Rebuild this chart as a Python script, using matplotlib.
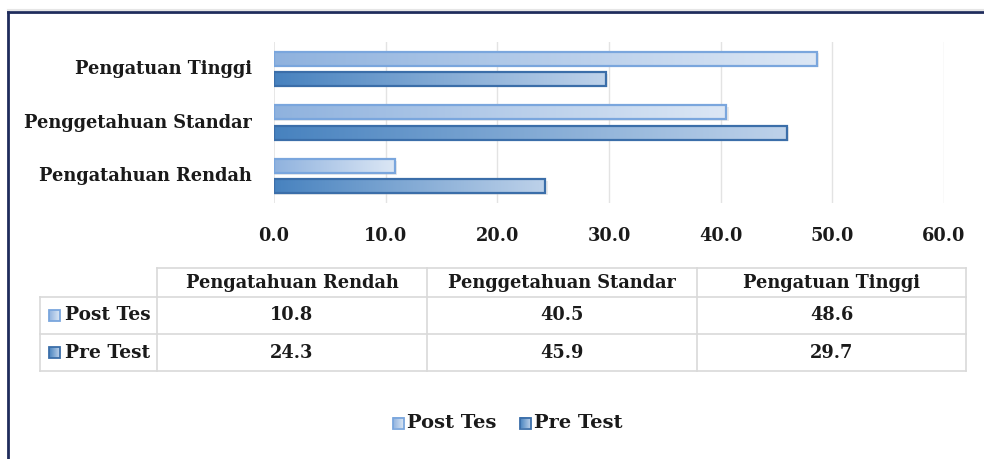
import numpy as np
import matplotlib.pyplot as plt
from matplotlib.colors import LinearSegmentedColormap
from matplotlib.patches import Rectangle
from matplotlib.lines import Line2D

categories = ["Pengatahuan Rendah", "Penggetahuan Standar", "Pengatuan Tinggi"]
series_names = ["Post Tes", "Pre Test"]
post_tes = [10.8, 40.5, 48.6]
pre_test = [24.3, 45.9, 29.7]
xticks = [0, 10, 20, 30, 40, 50, 60]

W, H = 984, 459
FONT = "DejaVu Serif"
FS = 12.8

post_cmap = LinearSegmentedColormap.from_list("post", ["#8fb2de", "#dce7f5"])
pre_cmap = LinearSegmentedColormap.from_list("pre", ["#4782bf", "#bed2ea"])
post_edge = "#7aa6dd"
pre_edge = "#3b6ea9"

fig = plt.figure(figsize=(W / 100, H / 100), dpi=100)
fig.patch.set_facecolor("white")

# main bar axes, placed in pixel coordinates
x0, x1, ytop, ybot = 274, 944, 42, 203
ax = fig.add_axes([x0 / W, 1 - ybot / H, (x1 - x0) / W, (ybot - ytop) / H])

grad = np.linspace(0, 1, 256).reshape(1, -1)
h = 0.26
off = 0.187


def gradient_bars(vals, ypos, cmap, edge):
    for v, y in zip(vals, ypos):
        # soft shadow
        ax.add_patch(Rectangle((0, y - h / 2 - 0.03), v + 0.25, h, facecolor="#c8c8c8",
                               alpha=0.35, edgecolor="none", zorder=1))
        ax.imshow(grad, cmap=cmap, extent=[0, v, y - h / 2, y + h / 2],
                  aspect="auto", zorder=2, interpolation="bilinear")
        ax.add_patch(Rectangle((0, y - h / 2), v, h, fill=False, edgecolor=edge,
                               linewidth=1.6, zorder=3))


ypos = np.arange(len(categories))
gradient_bars(post_tes, ypos + off, post_cmap, post_edge)
gradient_bars(pre_test, ypos - off, pre_cmap, pre_edge)
ax.set_xlim(0, 60)
ax.set_ylim(-0.5, len(categories) - 0.5)

for t in xticks[1:]:
    ax.axvline(t, color="#e3e3e3", linewidth=1, zorder=0)
ax.axvline(0, color="#e3e3e3", linewidth=1.2, zorder=0)
for s in ax.spines.values():
    s.set_visible(False)
ax.set_xticks([])
ax.set_yticks([])

# overlay axes in pixel coordinates for labels, table, legend and frame
ov = fig.add_axes([0, 0, 1, 1], facecolor="none")
ov.axis("off")

txt = dict(fontfamily=FONT, fontweight="bold", color="#1a1a1a")

# category labels
for i, c in enumerate(categories):
    yc = ybot - (i + 0.5) * (ybot - ytop) / len(categories)
    ov.text(252, yc, c, ha="right", va="center", fontsize=FS, **txt)

# x tick labels
for t in xticks:
    xp = x0 + (x1 - x0) * t / 60
    ov.text(xp, 236, f"{t:.1f}", ha="center", va="center", fontsize=FS, **txt)

# data table
cols = [157, 427, 697, 966]
rows = [268, 297, 334, 371]
gc = "#d9d9d9"
ov.add_line(Line2D([cols[0], cols[-1]], [rows[0], rows[0]], color=gc, lw=1.2))
for r in rows[1:]:
    ov.add_line(Line2D([40, cols[-1]], [r, r], color=gc, lw=1.2))
for c in cols:
    ov.add_line(Line2D([c, c], [rows[0], rows[-1]], color=gc, lw=1.2))
ov.add_line(Line2D([40, 40], [rows[1], rows[-1]], color=gc, lw=1.2))

for j, c in enumerate(categories):
    xc = (cols[j] + cols[j + 1]) / 2
    ov.text(xc, (rows[0] + rows[1]) / 2, c, ha="center", va="center", fontsize=FS, **txt)


def marker(xl, yc, cmap, edge, size=11):
    ov.imshow(grad, cmap=cmap, extent=[xl, xl + size, yc + size / 2, yc - size / 2],
              aspect="auto", zorder=3, interpolation="bilinear")
    ov.add_patch(Rectangle((xl, yc - size / 2), size, size, fill=False,
                           edgecolor=edge, linewidth=1.3, zorder=4))


series_vals = [post_tes, pre_test]
cmaps = [(post_cmap, post_edge), (pre_cmap, pre_edge)]
for i, (name, vals) in enumerate(zip(series_names, series_vals)):
    yc = (rows[i + 1] + rows[i + 2]) / 2
    marker(49, yc, *cmaps[i])
    ov.text(65, yc, name, ha="left", va="center", fontsize=FS + 0.6, **txt)
    for j, v in enumerate(vals):
        xc = (cols[j] + cols[j + 1]) / 2
        ov.text(xc, yc, f"{v:.1f}", ha="center", va="center", fontsize=FS, **txt)

# bottom legend
ly = 423
marker(393, ly, *cmaps[0])
ov.text(407, ly, series_names[0], ha="left", va="center", fontsize=14, **txt)
marker(520, ly, *cmaps[1])
ov.text(534, ly, series_names[1], ha="left", va="center", fontsize=14, **txt)

# outer frame (left and top edges visible)
ov.add_line(Line2D([8, 8], [12, H], color="#1f2c5c", lw=2))
ov.add_line(Line2D([8, W], [12, 12], color="#1f2c5c", lw=2))
ov.add_line(Line2D([8, W], [9.5, 9.5], color="#e6e6e6", lw=1.5))

ov.set_xlim(0, W)
ov.set_ylim(H, 0)

fig.savefig("out.png", dpi=100)
